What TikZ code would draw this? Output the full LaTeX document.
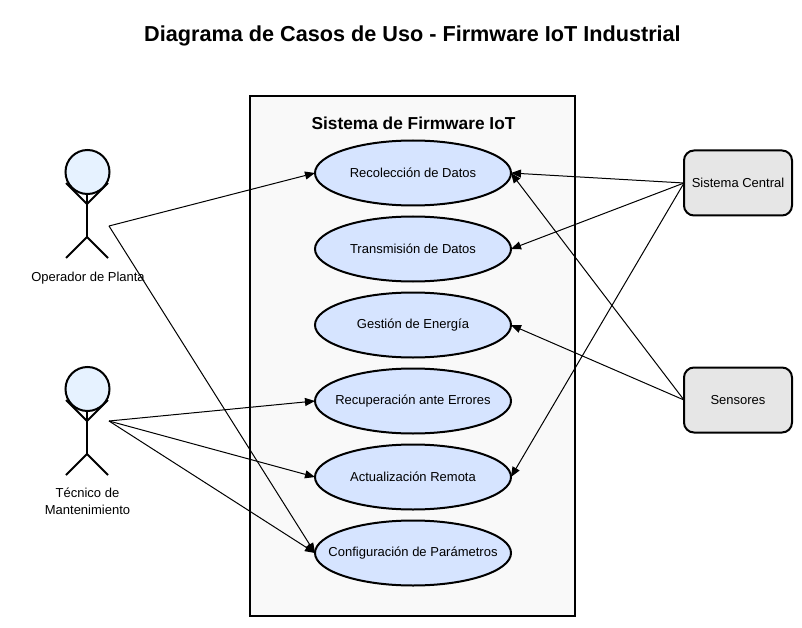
\documentclass[tikz,border=0pt]{standalone}
\usepackage{fontspec}
\setmainfont{Liberation Sans}
\usetikzlibrary{arrows.meta,shapes.geometric}
\definecolor{sysfill}{HTML}{F9F9F9}
\definecolor{ucfill}{HTML}{D6E4FF}
\definecolor{headfill}{HTML}{E6F2FF}
\definecolor{extfill}{HTML}{E6E6E6}
\newcommand{\uclabel}[1]{\makebox[0pt]{\raisebox{-1pt}{#1}}}
\tikzset{
  usecase/.style={ellipse,draw=black,line width=2pt,outer sep=0pt,fill=ucfill,minimum width=196pt,minimum height=65pt,inner sep=0pt,font=\fontsize{13}{15}\selectfont},
  external/.style={rectangle,rounded corners=10pt,draw=black,line width=2pt,outer sep=0pt,fill=extfill,minimum width=108pt,minimum height=65pt,inner sep=0pt,font=\fontsize{13}{15}\selectfont},
  head/.style={circle,draw=black,line width=2pt,fill=headfill,minimum size=44pt,inner sep=0pt},
  limb/.style={draw=black,line width=2pt},
  conn/.style={draw=black,line width=1pt,-{Triangle[length=10pt,width=8pt]}},
  actorlabel/.style={align=center,font=\fontsize{13}{17}\selectfont,inner sep=0pt}
}
\begin{document}
\begin{tikzpicture}[x=1pt,y=-1pt]
\useasboundingbox (0,0) rectangle (802,628);
\fill[white] (0,0) rectangle (802,628);
\node[font=\bfseries\fontsize{21.65}{25}\selectfont,inner sep=0pt] (title) at (412.5,35.5) {Diagrama de Casos de Uso - Firmware IoT Industrial};
\node[rectangle,draw=black,line width=2pt,fill=sysfill,minimum width=325pt,minimum height=520pt,inner sep=0pt] (system) at (412.5,356) {};
\node[font=\bfseries\fontsize{17.3}{20}\selectfont,inner sep=0pt] (systitle) at (413.5,123.5) {Sistema de Firmware IoT};
\node[usecase] (u1) at (413,173) {\uclabel{Recolección de Datos}};
\node[usecase] (u2) at (413,249) {\uclabel{Transmisión de Datos}};
\node[usecase] (u3) at (413,325) {\uclabel{Gestión de Energía}};
\node[usecase] (u4) at (413,401) {\uclabel{Recuperación ante Errores}};
\node[usecase] (u5) at (413,477) {\uclabel{Actualización Remota}};
\node[usecase] (u6) at (413,553) {\uclabel{Configuración de Parámetros}};
\node[external] (central) at (738,183) {\raisebox{-0.5pt}{Sistema Central}};
\node[external] (sensores) at (738,400) {\raisebox{-0.5pt}{Sensores}};
% Operador
\draw[limb] (87,194) -- (87,237) coordinate (leg1);
\draw[limb] (66,183) -- (87,204) -- (108,183);
\draw[limb] (66,258) -- (leg1) -- (108,258);
\node[head] (h1) at (87.5,172) {};
\node[actorlabel] (a1) at (88,277.7) {Operador de Planta};
\coordinate (op) at (109,226);
% Tecnico
\draw[limb] (87,411) -- (87,454) coordinate (leg2);
\draw[limb] (66,400) -- (87,421) -- (108,400);
\draw[limb] (66,475) -- (leg2) -- (108,475);
\node[head] (h2) at (87.5,389) {};
\node[actorlabel] (a2) at (87.5,501) {Técnico de\\Mantenimiento};
\coordinate (tec) at (109,421);
% connectors
\draw[conn] (op) -- (u1.west);
\draw[conn] (op) -- (u6.west);
\draw[conn] (tec) -- (u4.west);
\draw[conn] (tec) -- (u5.west);
\draw[conn] (tec) -- (u6.west);
\draw[conn] (central.west) -- (u1.east);
\draw[conn] (central.west) -- (u2.east);
\draw[conn] (central.west) -- (u5.east);
\draw[conn] (sensores.west) -- (u1.east);
\draw[conn] (sensores.west) -- (u3.east);
\end{tikzpicture}
\end{document}
